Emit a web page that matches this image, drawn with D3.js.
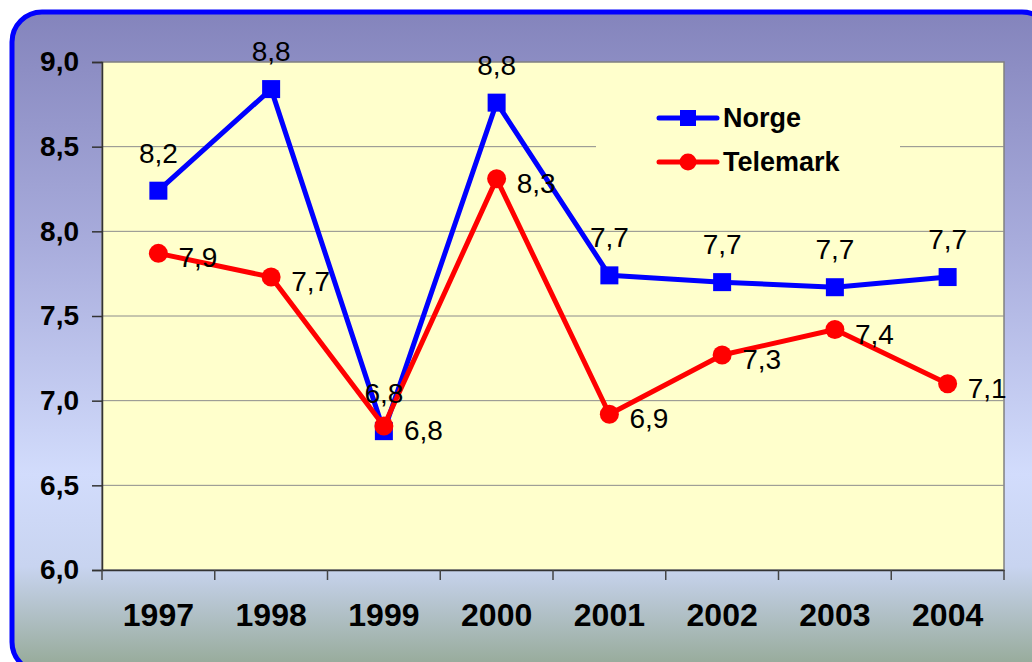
<!DOCTYPE html>
<html>
<head>
<meta charset="utf-8">
<script src="https://cdn.jsdelivr.net/npm/d3@7"></script>
<style>
body { margin: 0; background: #fff; }
svg { display: block; font-family: "Liberation Sans", Arial, sans-serif; }
</style>
</head>
<body>
<svg id="chart" width="1032" height="662"></svg>
<script>
var years = ["1997", "1998", "1999", "2000", "2001", "2002", "2003", "2004"];
var norge = [8.24, 8.84, 6.82, 8.76, 7.74, 7.70, 7.67, 7.73];
var telemark = [7.87, 7.73, 6.85, 8.31, 6.92, 7.27, 7.42, 7.10];
var yTicks = [6.0, 6.5, 7.0, 7.5, 8.0, 8.5, 9.0];
var seriesNames = ["Norge", "Telemark"];

var svg = d3.select("#chart");
var comma = function(v) { return d3.format(".1f")(v).replace(".", ","); };

// background frame with gradient
var defs = svg.append("defs");
var grad = defs.append("linearGradient").attr("id", "bg")
  .attr("x1", 0).attr("y1", 0).attr("x2", 0).attr("y2", 1);
grad.append("stop").attr("offset", "0%").attr("stop-color", "#8484bc");
grad.append("stop").attr("offset", "35%").attr("stop-color", "#a8acdc");
grad.append("stop").attr("offset", "70%").attr("stop-color", "#d2dcfc");
grad.append("stop").attr("offset", "84%").attr("stop-color", "#c8d4f0");
grad.append("stop").attr("offset", "100%").attr("stop-color", "#94a894");

svg.append("rect")
  .attr("x", 12).attr("y", 12).attr("width", 1040).attr("height", 660)
  .attr("rx", 30).attr("ry", 30)
  .attr("fill", "url(#bg)")
  .attr("stroke", "#0000ff").attr("stroke-width", 5);

var plotLeft = 102, plotRight = 1004, plotTop = 62, plotBottom = 570;

var x = d3.scaleBand().domain(years).range([plotLeft, plotRight]).padding(0);
var y = d3.scaleLinear().domain([6, 9]).range([plotBottom, plotTop]);

// plot area
svg.append("rect")
  .attr("x", plotLeft).attr("y", plotTop)
  .attr("width", plotRight - plotLeft).attr("height", plotBottom - plotTop)
  .attr("fill", "#ffffcc")
  .attr("stroke", "#808080").attr("stroke-width", 1.5);

// gridlines
svg.append("g").selectAll("line")
  .data(yTicks.filter(function(d) { return d > 6 && d < 9; }))
  .join("line")
  .attr("x1", plotLeft).attr("x2", plotRight)
  .attr("y1", function(d) { return y(d); })
  .attr("y2", function(d) { return y(d); })
  .attr("stroke", "#8c8c8c").attr("stroke-width", 1);

// y axis
var yAxis = svg.append("g")
  .attr("transform", "translate(" + plotLeft + ",0)")
  .call(d3.axisLeft(y).tickValues(yTicks).tickFormat(comma).tickSize(10).tickPadding(13));
yAxis.select(".domain").attr("stroke", "#333").attr("stroke-width", 1.5);
yAxis.selectAll(".tick line").attr("stroke", "#333").attr("stroke-width", 1.5);
yAxis.selectAll("text")
  .attr("font-size", 28).attr("font-weight", "bold").attr("fill", "#000")
  .attr("font-family", "Liberation Sans, Arial, sans-serif");

// x axis
var xAxis = svg.append("g")
  .attr("transform", "translate(0," + plotBottom + ")")
  .call(d3.axisBottom(x).tickSize(0).tickPadding(33));
xAxis.select(".domain").attr("stroke", "#333").attr("stroke-width", 1.5);
xAxis.selectAll("text")
  .attr("font-size", 32).attr("font-weight", "bold").attr("fill", "#000")
  .attr("font-family", "Liberation Sans, Arial, sans-serif");
var bounds = years.map(function(d) { return x(d); }).concat([x.range()[1]]);
xAxis.selectAll(".bound").data(bounds).join("line")
  .attr("class", "bound")
  .attr("x1", function(d) { return d; }).attr("x2", function(d) { return d; })
  .attr("y1", 0).attr("y2", 10)
  .attr("stroke", "#444").attr("stroke-width", 1.5);

var cx = function(i) { return x(years[i]) + x.bandwidth() / 2; };
var line = d3.line().x(function(d, i) { return cx(i); }).y(function(d) { return y(d); });

// Norge
svg.append("path").datum(norge).attr("d", line)
  .attr("fill", "none").attr("stroke", "#0000ff").attr("stroke-width", 5)
  .attr("stroke-linejoin", "round");
svg.append("g").selectAll("rect").data(norge).join("rect")
  .attr("x", function(d, i) { return cx(i) - 9; })
  .attr("y", function(d) { return y(d) - 9; })
  .attr("width", 18).attr("height", 18)
  .attr("fill", "#0000ff");

// Telemark
svg.append("path").datum(telemark).attr("d", line)
  .attr("fill", "none").attr("stroke", "#ff0000").attr("stroke-width", 5)
  .attr("stroke-linejoin", "round");
svg.append("g").selectAll("circle").data(telemark).join("circle")
  .attr("cx", function(d, i) { return cx(i); })
  .attr("cy", function(d) { return y(d); })
  .attr("r", 9.5)
  .attr("fill", "#ff0000");

// data labels
svg.append("g").selectAll("text").data(norge).join("text")
  .attr("x", function(d, i) { return cx(i); })
  .attr("y", function(d) { return y(d) - 28; })
  .attr("text-anchor", "middle")
  .attr("font-size", 28).attr("fill", "#000")
  .text(function(d) { return comma(d); });
svg.append("g").selectAll("text").data(telemark).join("text")
  .attr("x", function(d, i) { return cx(i) + 20; })
  .attr("y", function(d) { return y(d) + 14; })
  .attr("text-anchor", "start")
  .attr("font-size", 28).attr("fill", "#000")
  .text(function(d) { return comma(d); });

// legend
var legend = svg.append("g");
legend.append("rect")
  .attr("x", 596).attr("y", 96).attr("width", 304).attr("height", 90)
  .attr("fill", "#ffffcc");
var colors = ["#0000ff", "#ff0000"];
seriesNames.forEach(function(name, i) {
  var ly = 118 + i 
  * 44;
  legend.append("line")
    .attr("x1", 659).attr("x2", 717).attr("y1", ly).attr("y2", ly)
    .attr("stroke", colors[i]).attr("stroke-width", 5).attr("stroke-linecap", "round");
  if (i === 0) {
    legend.append("rect").attr("x", 680).attr("y", ly - 8)
      .attr("width", 16).attr("height", 16).attr("fill", colors[i]);
  } else {
    legend.append("circle").attr("cx", 688).attr("cy", ly).attr("r", 8.5)
      .attr("fill", colors[i]);
  }
  legend.append("text")
    .attr("x", 723).attr("y", ly + 9)
    .attr("font-size", 27).attr("font-weight", "bold").attr("fill", "#000")
    .text(name);
});
</script>
</body>
</html>
